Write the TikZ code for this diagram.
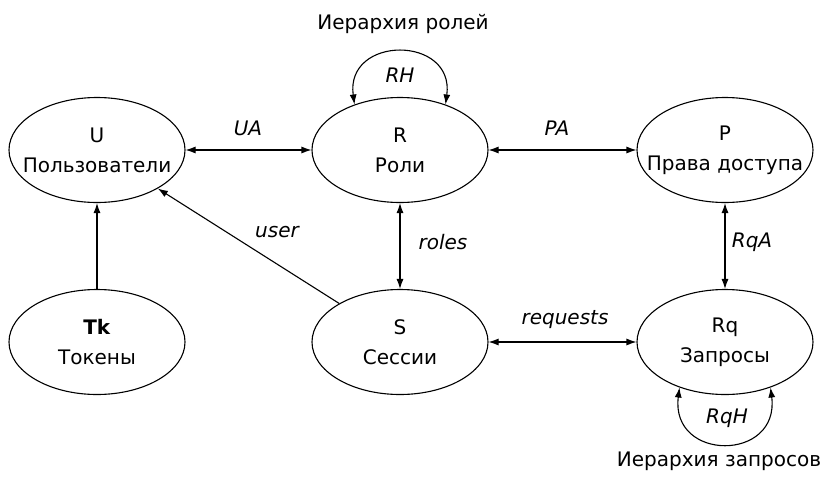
\documentclass[tikz,border=0pt]{standalone}
\usepackage{fontspec}
\setmainfont{DejaVu Sans}
\usetikzlibrary{arrows.meta,shapes.geometric}
\begin{document}
\begin{tikzpicture}[x=1pt,y=-1pt,
  ent/.style={draw, ellipse, line width=1.1pt, minimum width=176pt, minimum height=105pt, inner sep=0pt},
  etxt/.style={align=center, inner sep=0pt, font=\fontsize{20}{30}\selectfont},
  lbl/.style={font=\fontsize{20}{24}\selectfont\itshape},
  txt/.style={font=\fontsize{20}{24}\selectfont},
  con/.style={line width=1.1pt, {Latex[length=10pt,width=7pt]}-{Latex[length=10pt,width=7pt]}},
  one/.style={line width=1.1pt, -{Latex[length=10pt,width=7pt]}}]
\useasboundingbox (0,0) rectangle (827,477);
\node[ent] (U) at (97,150) {};
\node[ent] (R) at (400,150) {};
\node[ent] (P) at (725,150) {};
\node[ent] (Tk) at (97,342) {};
\node[ent] (S) at (400,342) {};
\node[ent] (Rq) at (725,342) {};
\node[etxt] (tU) at (U) {U\\Пользователи};
\node[etxt] (tR) at (R) {R\\Роли};
\node[etxt] (tP) at (P) {P\\Права доступа};
\node[etxt] (tTk) at (Tk) {\textbf{Tk}\\Токены};
\node[etxt] (tS) at (S) {S\\Сессии};
\node[etxt] (tRq) at (Rq) {Rq\\Запросы};

\draw[con] (U) -- (R);
\draw[con] (R) -- (P);
\draw[con] (S) -- (Rq);
\draw[con] (R) -- (S);
\draw[con] (P) -- (Rq);
\draw[one] (Tk) -- (U);
\draw[one] (S) -- (U);
\draw[con] (R.135) .. controls (345,35) and (455,35) .. (R.45);
\draw[con] (Rq.-135) .. controls (670,462) and (780,462) .. (Rq.-45);

\node[lbl] (lUA) at (248,128) {UA};
\node[lbl] (lPA) at (557,128) {PA};
\node[lbl] (lreq) at (565,320) {requests};
\node[lbl] (lroles) at (443,242) {roles};
\node[lbl] (lRqA) at (752,242) {RqA};
\node[lbl] (luser) at (277,232) {user};
\node[lbl] (lRH) at (400,75) {RH};
\node[lbl] (lRqH) at (727,418) {RqH};
\node[txt] (tRH) at (403,24) {Иерархия ролей};
\node[txt] (tRqH) at (719,461) {Иерархия запросов};
\end{tikzpicture}
\end{document}
